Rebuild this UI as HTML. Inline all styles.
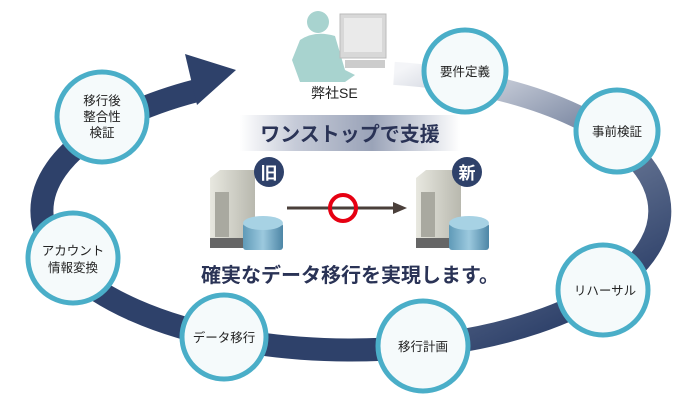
<!DOCTYPE html>
<html><head><meta charset="utf-8"><style>
html,body{margin:0;padding:0;background:#fff;}
svg{display:block;font-family:"Liberation Sans","Noto Sans CJK JP",sans-serif;}
</style></head><body>
<svg width="700" height="400" viewBox="0 0 700 400" xmlns="http://www.w3.org/2000/svg">
<defs>
<linearGradient id="ring" x1="420" y1="60" x2="560" y2="330" gradientUnits="userSpaceOnUse">
<stop offset="0" stop-color="#f4f5f8"/>
<stop offset="0.5" stop-color="#6e7c99"/>
<stop offset="1" stop-color="#2e416a"/>
</linearGradient>
<linearGradient id="band" x1="0" y1="0" x2="1" y2="0">
<stop offset="0" stop-color="#fff"/>
<stop offset="0.25" stop-color="#c6cbd8"/>
<stop offset="0.6" stop-color="#9aa3b8"/>
<stop offset="1" stop-color="#fff"/>
</linearGradient>
<linearGradient id="cyl" x1="0" y1="0" x2="1" y2="0">
<stop offset="0" stop-color="#5f9ab8"/><stop offset="0.5" stop-color="#9cc9de"/><stop offset="1" stop-color="#4d86a6"/>
</linearGradient>
<linearGradient id="srv" x1="0" y1="0" x2="1" y2="0">
<stop offset="0" stop-color="#e8e8e0"/><stop offset="1" stop-color="#b8b8ae"/>
</linearGradient>
</defs>
<!-- ring: navy base -->
<path d="M456.7,341.6 A309,139 0 0,1 196.5,90.6" fill="none" stroke="#2e416a" stroke-width="23"/>
<!-- ring: gradient right part -->
<path d="M394,73.4 A309,139 0 0,1 446.5,343.2" fill="none" stroke="url(#ring)" stroke-width="23"/>
<polygon points="185,54 236,70 197,105" fill="#2e416a"/>
<!-- SE person -->
<g fill="#a8d3cf">
<circle cx="318" cy="22" r="11"/>
<path d="M300,40 Q315,30 335,36 L345,70 L355,75 L345,82 L300,82 L292,60 Z"/>
</g>
<rect x="340" y="14" width="46" height="44" fill="#d8d8d8" stroke="#bbb"/>
<rect x="344" y="18" width="38" height="34" fill="#eaeaea"/>
<rect x="345" y="60" width="40" height="8" fill="#ccc"/>
<text x="311" y="98" font-size="14" fill="#222">弊社SE</text>
<!-- banner -->
<rect x="240" y="115" width="220" height="36" fill="url(#band)"/>
<text x="350" y="141" font-size="20" font-weight="bold" fill="#2a3356" text-anchor="middle">ワンストップで支援</text>
<!-- old server -->
<g transform="translate(210,170)">
<polygon points="0,8 10,0 45,0 45,70 36,78 0,78" fill="url(#srv)"/>
<rect x="5" y="22" width="14" height="45" fill="#a9a9a0"/>
<rect x="0" y="68" width="38" height="10" fill="#666"/>
<rect x="33" y="53" width="40" height="27" rx="3" fill="url(#cyl)"/>
<ellipse cx="53" cy="53" rx="20" ry="7" fill="#a7d2e4"/>
</g>
<circle cx="269" cy="172" r="15" fill="#2e416a"/>
<text x="269" y="179" font-size="17" font-weight="bold" fill="#fff" text-anchor="middle">旧</text>
<g transform="translate(416,170)">
<polygon points="0,8 10,0 45,0 45,70 36,78 0,78" fill="url(#srv)"/>
<rect x="5" y="22" width="14" height="45" fill="#a9a9a0"/>
<rect x="0" y="68" width="38" height="10" fill="#666"/>
<rect x="33" y="53" width="40" height="27" rx="3" fill="url(#cyl)"/>
<ellipse cx="53" cy="53" rx="20" ry="7" fill="#a7d2e4"/>
</g>
<circle cx="467" cy="172" r="15" fill="#2e416a"/>
<text x="467" y="179" font-size="17" font-weight="bold" fill="#fff" text-anchor="middle">新</text>
<!-- arrow -->
<line x1="287" y1="208" x2="396" y2="208" stroke="#4a3f3a" stroke-width="3"/>
<polygon points="393,202 407,208 393,214" fill="#4a3f3a"/>
<circle cx="343" cy="208" r="13" fill="none" stroke="#e60012" stroke-width="4"/>
<text x="350" y="282" font-size="20" font-weight="bold" fill="#2a3356" text-anchor="middle">確実なデータ移行を実現します。</text>
<!-- circles -->
<g stroke="#4aaec8" stroke-width="5" fill="#f5fafb">
<circle cx="465" cy="71" r="41"/>
<circle cx="617" cy="131" r="41"/>
<circle cx="603" cy="290" r="45"/>
<circle cx="423" cy="346" r="45"/>
<circle cx="224" cy="337" r="42"/>
<circle cx="73" cy="258" r="45"/>
<circle cx="102" cy="117" r="45"/>
</g>
<g font-size="12.5" fill="#222" text-anchor="middle">
<text x="465" y="76">要件定義</text>
<text x="617" y="136">事前検証</text>
<text x="605" y="295">リハーサル</text>
<text x="423" y="351">移行計画</text>
<text x="224" y="342">データ移行</text>
<text x="73" y="255">アカウント</text>
<text x="73" y="272">情報変換</text>
<text x="102" y="105">移行後</text>
<text x="102" y="121">整合性</text>
<text x="102" y="137">検証</text>
</g>
</svg>
</body></html>
